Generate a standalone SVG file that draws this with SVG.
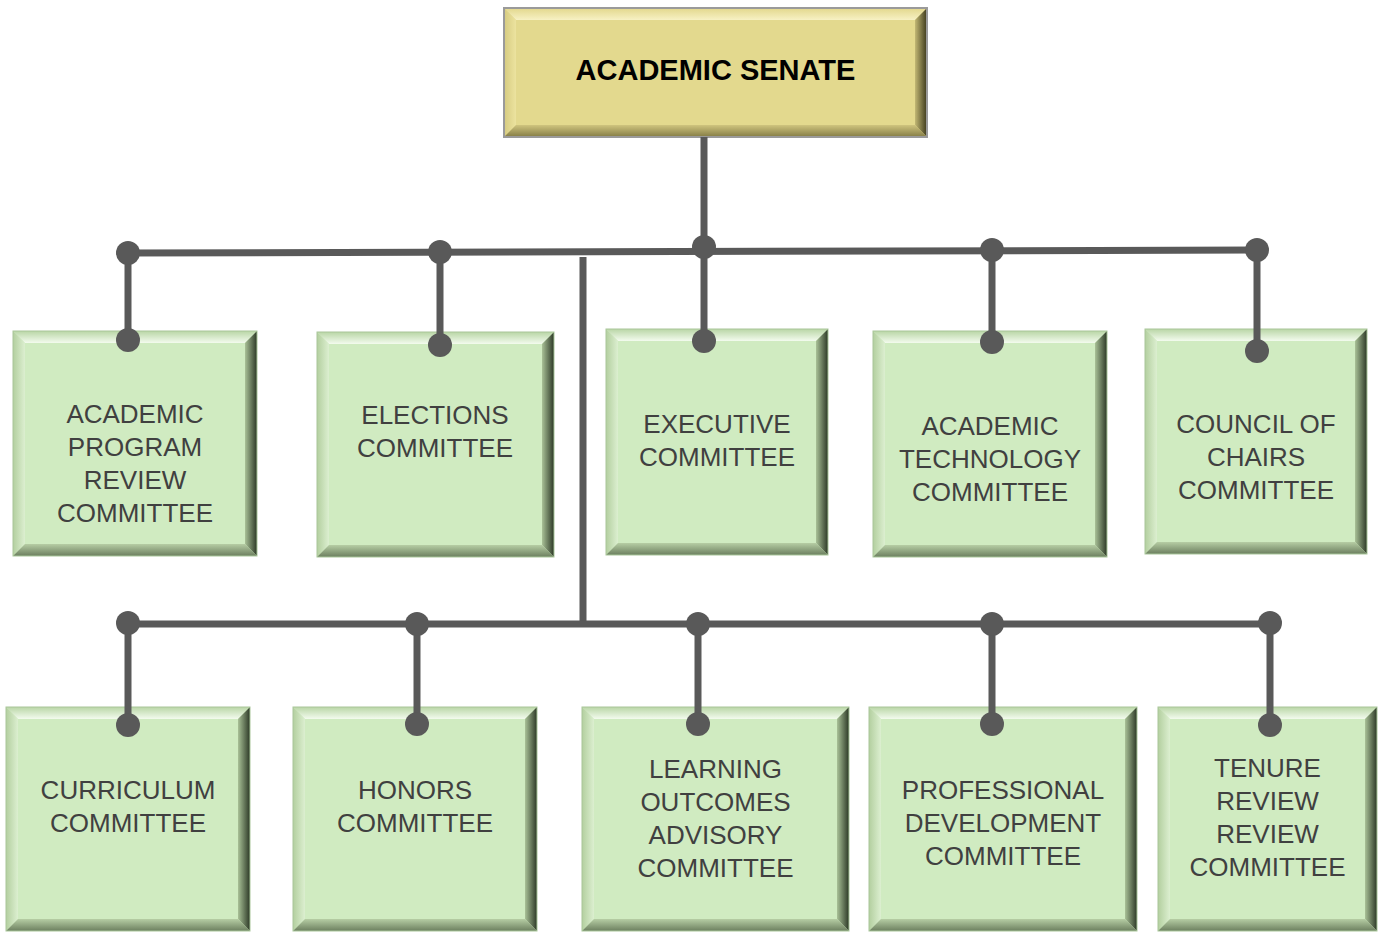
<svg xmlns="http://www.w3.org/2000/svg" width="1382" height="932" viewBox="0 0 1382 932">
<defs>
<linearGradient id="gT" x1="0" y1="0" x2="0" y2="1"><stop offset="0" stop-color="#b9d6a6"/><stop offset="1" stop-color="#f3fbee"/></linearGradient>
<linearGradient id="gL" x1="0" y1="0" x2="1" y2="0"><stop offset="0" stop-color="#b3cf9f"/><stop offset="1" stop-color="#dcefd0"/></linearGradient>
<linearGradient id="gR" x1="0" y1="0" x2="1" y2="0"><stop offset="0" stop-color="#a9c197"/><stop offset="1" stop-color="#2c3826"/></linearGradient>
<linearGradient id="gB" x1="0" y1="0" x2="0" y2="1"><stop offset="0" stop-color="#b6cda4"/><stop offset="1" stop-color="#6c7f5f"/></linearGradient>
<linearGradient id="yT" x1="0" y1="0" x2="0" y2="1"><stop offset="0" stop-color="#e2d78c"/><stop offset="1" stop-color="#f7f1c4"/></linearGradient>
<linearGradient id="yL" x1="0" y1="0" x2="1" y2="0"><stop offset="0" stop-color="#d6cb80"/><stop offset="1" stop-color="#ece39f"/></linearGradient>
<linearGradient id="yR" x1="0" y1="0" x2="1" y2="0"><stop offset="0" stop-color="#c2b874"/><stop offset="1" stop-color="#3d391b"/></linearGradient>
<linearGradient id="yB" x1="0" y1="0" x2="0" y2="1"><stop offset="0" stop-color="#cfc47e"/><stop offset="1" stop-color="#847c45"/></linearGradient>
</defs>
<style>
.gf{fill:#d0ebc1}
.gt{fill:url(#gT)}.gl{fill:url(#gL)}.gr{fill:url(#gR)}.gb{fill:url(#gB)}
.yf{fill:#e3d98e}
.yt{fill:url(#yT)}.yl{fill:url(#yL)}.yr{fill:url(#yR)}.yb{fill:url(#yB)}
.go{fill:none;stroke:#a9c69a;stroke-width:1}
.yo{fill:none;stroke:#9a9a9a;stroke-width:2}
.t{font-family:"Liberation Sans",Arial,Helvetica,sans-serif;font-size:26px;fill:#404040;text-anchor:middle}
.h{font-family:"Liberation Sans",Arial,Helvetica,sans-serif;font-size:29px;font-weight:bold;fill:#000;text-anchor:middle}
.c{stroke:#595959;stroke-width:7;fill:none}
.d{fill:#595959}
</style>
<rect width="1382" height="932" fill="#fff"/>
<g id="senate">
<rect class="yf" x="504" y="8" width="423" height="129"/>
<polygon class="yt" points="504,8 927,8 915,20 516,20"/>
<polygon class="yl" points="504,8 516,20 516,125 504,137"/>
<polygon class="yr" points="927,8 927,137 915,125 915,20"/>
<polygon class="yb" points="504,137 516,125 915,125 927,137"/>
<rect class="yo" x="504" y="8" width="423" height="129"/>
<text class="h" x="715.5" y="80">ACADEMIC SENATE</text>
</g>
<g id="academic-program-review">
<rect class="gf" x="13" y="331" width="244" height="225"/>
<polygon class="gt" points="13,331 257,331 245,343 25,343"/>
<polygon class="gl" points="13,331 25,343 25,544 13,556"/>
<polygon class="gr" points="257,331 257,556 245,544 245,343"/>
<polygon class="gb" points="13,556 25,544 245,544 257,556"/>
<rect class="go" x="13" y="331" width="244" height="225"/>
<text class="t" x="135" y="423">ACADEMIC</text>
<text class="t" x="135" y="456">PROGRAM</text>
<text class="t" x="135" y="489">REVIEW</text>
<text class="t" x="135" y="522">COMMITTEE</text>
</g>
<g id="elections">
<rect class="gf" x="317" y="332" width="237" height="225"/>
<polygon class="gt" points="317,332 554,332 542,344 329,344"/>
<polygon class="gl" points="317,332 329,344 329,545 317,557"/>
<polygon class="gr" points="554,332 554,557 542,545 542,344"/>
<polygon class="gb" points="317,557 329,545 542,545 554,557"/>
<rect class="go" x="317" y="332" width="237" height="225"/>
<text class="t" x="435" y="424">ELECTIONS</text>
<text class="t" x="435" y="457">COMMITTEE</text>
</g>
<g id="executive">
<rect class="gf" x="606" y="329" width="222" height="226"/>
<polygon class="gt" points="606,329 828,329 816,341 618,341"/>
<polygon class="gl" points="606,329 618,341 618,543 606,555"/>
<polygon class="gr" points="828,329 828,555 816,543 816,341"/>
<polygon class="gb" points="606,555 618,543 816,543 828,555"/>
<rect class="go" x="606" y="329" width="222" height="226"/>
<text class="t" x="717" y="433">EXECUTIVE</text>
<text class="t" x="717" y="466">COMMITTEE</text>
</g>
<g id="academic-technology">
<rect class="gf" x="873" y="331" width="234" height="226"/>
<polygon class="gt" points="873,331 1107,331 1095,343 885,343"/>
<polygon class="gl" points="873,331 885,343 885,545 873,557"/>
<polygon class="gr" points="1107,331 1107,557 1095,545 1095,343"/>
<polygon class="gb" points="873,557 885,545 1095,545 1107,557"/>
<rect class="go" x="873" y="331" width="234" height="226"/>
<text class="t" x="990" y="435">ACADEMIC</text>
<text class="t" x="990" y="468">TECHNOLOGY</text>
<text class="t" x="990" y="501">COMMITTEE</text>
</g>
<g id="council-of-chairs">
<rect class="gf" x="1145" y="329" width="222" height="225"/>
<polygon class="gt" points="1145,329 1367,329 1355,341 1157,341"/>
<polygon class="gl" points="1145,329 1157,341 1157,542 1145,554"/>
<polygon class="gr" points="1367,329 1367,554 1355,542 1355,341"/>
<polygon class="gb" points="1145,554 1157,542 1355,542 1367,554"/>
<rect class="go" x="1145" y="329" width="222" height="225"/>
<text class="t" x="1256" y="433">COUNCIL OF</text>
<text class="t" x="1256" y="466">CHAIRS</text>
<text class="t" x="1256" y="499">COMMITTEE</text>
</g>
<g id="curriculum">
<rect class="gf" x="6" y="707" width="244" height="224"/>
<polygon class="gt" points="6,707 250,707 238,719 18,719"/>
<polygon class="gl" points="6,707 18,719 18,919 6,931"/>
<polygon class="gr" points="250,707 250,931 238,919 238,719"/>
<polygon class="gb" points="6,931 18,919 238,919 250,931"/>
<rect class="go" x="6" y="707" width="244" height="224"/>
<text class="t" x="128" y="799">CURRICULUM</text>
<text class="t" x="128" y="832">COMMITTEE</text>
</g>
<g id="honors">
<rect class="gf" x="293" y="707" width="244" height="224"/>
<polygon class="gt" points="293,707 537,707 525,719 305,719"/>
<polygon class="gl" points="293,707 305,719 305,919 293,931"/>
<polygon class="gr" points="537,707 537,931 525,919 525,719"/>
<polygon class="gb" points="293,931 305,919 525,919 537,931"/>
<rect class="go" x="293" y="707" width="244" height="224"/>
<text class="t" x="415" y="799">HONORS</text>
<text class="t" x="415" y="832">COMMITTEE</text>
</g>
<g id="learning-outcomes-advisory">
<rect class="gf" x="582" y="707" width="267" height="224"/>
<polygon class="gt" points="582,707 849,707 837,719 594,719"/>
<polygon class="gl" points="582,707 594,719 594,919 582,931"/>
<polygon class="gr" points="849,707 849,931 837,919 837,719"/>
<polygon class="gb" points="582,931 594,919 837,919 849,931"/>
<rect class="go" x="582" y="707" width="267" height="224"/>
<text class="t" x="715.5" y="778">LEARNING</text>
<text class="t" x="715.5" y="811">OUTCOMES</text>
<text class="t" x="715.5" y="844">ADVISORY</text>
<text class="t" x="715.5" y="877">COMMITTEE</text>
</g>
<g id="professional-development">
<rect class="gf" x="869" y="707" width="268" height="224"/>
<polygon class="gt" points="869,707 1137,707 1125,719 881,719"/>
<polygon class="gl" points="869,707 881,719 881,919 869,931"/>
<polygon class="gr" points="1137,707 1137,931 1125,919 1125,719"/>
<polygon class="gb" points="869,931 881,919 1125,919 1137,931"/>
<rect class="go" x="869" y="707" width="268" height="224"/>
<text class="t" x="1003" y="799">PROFESSIONAL</text>
<text class="t" x="1003" y="832">DEVELOPMENT</text>
<text class="t" x="1003" y="865">COMMITTEE</text>
</g>
<g id="tenure-review-review">
<rect class="gf" x="1158" y="707" width="219" height="224"/>
<polygon class="gt" points="1158,707 1377,707 1365,719 1170,719"/>
<polygon class="gl" points="1158,707 1170,719 1170,919 1158,931"/>
<polygon class="gr" points="1377,707 1377,931 1365,919 1365,719"/>
<polygon class="gb" points="1158,931 1170,919 1365,919 1377,931"/>
<rect class="go" x="1158" y="707" width="219" height="224"/>
<text class="t" x="1267.5" y="777">TENURE</text>
<text class="t" x="1267.5" y="810">REVIEW</text>
<text class="t" x="1267.5" y="843">REVIEW</text>
<text class="t" x="1267.5" y="876">COMMITTEE</text>
</g>
<g id="connectors">
<line class="c" x1="704" y1="137" x2="704" y2="250"/>
<line class="c" x1="128" y1="253" x2="1257" y2="250"/>
<line class="c" x1="128" y1="253" x2="128" y2="340"/>
<line class="c" x1="440" y1="252" x2="440" y2="345"/>
<line class="c" x1="704" y1="247" x2="704" y2="341"/>
<line class="c" x1="992" y1="250" x2="992" y2="342"/>
<line class="c" x1="1257" y1="250" x2="1257" y2="351"/>
<line class="c" x1="583" y1="257" x2="583" y2="624"/>
<line class="c" x1="128" y1="624" x2="1270" y2="624"/>
<line class="c" x1="128" y1="624" x2="128" y2="725"/>
<line class="c" x1="417" y1="624" x2="417" y2="724"/>
<line class="c" x1="698" y1="624" x2="698" y2="724"/>
<line class="c" x1="992" y1="624" x2="992" y2="724"/>
<line class="c" x1="1270" y1="624" x2="1270" y2="725"/>
<circle class="d" cx="128" cy="253" r="12"/>
<circle class="d" cx="440" cy="252" r="12"/>
<circle class="d" cx="704" cy="247" r="12"/>
<circle class="d" cx="992" cy="250" r="12"/>
<circle class="d" cx="1257" cy="250" r="12"/>
<circle class="d" cx="128" cy="340" r="12"/>
<circle class="d" cx="440" cy="345" r="12"/>
<circle class="d" cx="704" cy="341" r="12"/>
<circle class="d" cx="992" cy="342" r="12"/>
<circle class="d" cx="1257" cy="351" r="12"/>
<circle class="d" cx="128" cy="623" r="12"/>
<circle class="d" cx="417" cy="624" r="12"/>
<circle class="d" cx="698" cy="624" r="12"/>
<circle class="d" cx="992" cy="624" r="12"/>
<circle class="d" cx="1270" cy="623" r="12"/>
<circle class="d" cx="128" cy="725" r="12"/>
<circle class="d" cx="417" cy="724" r="12"/>
<circle class="d" cx="698" cy="724" r="12"/>
<circle class="d" cx="992" cy="724" r="12"/>
<circle class="d" cx="1270" cy="725" r="12"/>
</g>
</svg>
